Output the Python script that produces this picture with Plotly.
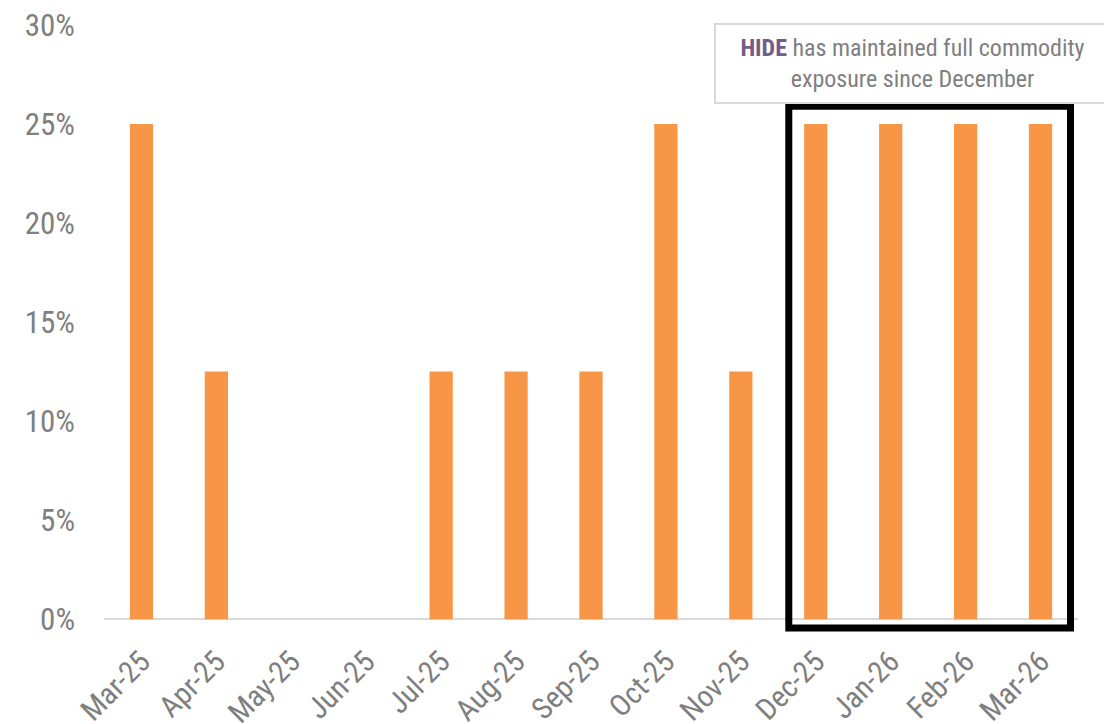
import plotly.graph_objects as go

months = ["Mar-25", "Apr-25", "May-25", "Jun-25", "Jul-25", "Aug-25", "Sep-25",
          "Oct-25", "Nov-25", "Dec-25", "Jan-26", "Feb-26", "Mar-26"]
exposure = [0.25, 0.125, 0.0, 0.0, 0.125, 0.125, 0.125,
            0.25, 0.125, 0.25, 0.25, 0.25, 0.25]
y_ticks = [0, 0.05, 0.10, 0.15, 0.20, 0.25, 0.30]

FONT = "Roboto Condensed, Liberation Sans Narrow, Roboto, sans-serif"
GREY = "#7f7f7f"

fig = go.Figure()
fig.add_trace(go.Bar(x=months, y=exposure, marker_color="#F79646",
                     marker_line_width=0))

# highlight box round Dec-25 .. Mar-26
fig.add_shape(type="rect", xref="x", yref="y",
              x0=9 - 0.36, x1=12 + 0.4, y0=-0.0045, y1=0.259,
              line=dict(color="black", width=7), layer="above")

fig.add_annotation(
    xref="paper", yref="paper", x=0.830, y=0.938,
    xanchor="center", yanchor="middle",
    text="<b><span style='color:#735C8A'>HIDE</span></b> has maintained full commodity<br>exposure since December",
    showarrow=False, align="center", width=375,
    font=dict(family=FONT, size=24, color=GREY),
    bordercolor="#d9d9d9", borderwidth=2, borderpad=9, bgcolor="white",
)

# page body adds an 8px offset, so margins are shifted to compensate
fig.update_layout(
    width=1112, height=724,
    margin=dict(l=95.5, r=41.5, t=17, b=93),
    paper_bgcolor="white", plot_bgcolor="white",
    bargap=0.69, showlegend=False,
    font=dict(family=FONT, size=31, color=GREY),
)
fig.update_xaxes(tickangle=-45, showgrid=False, showline=False, ticks="",
                 automargin=False, ticklabeloverflow="allow",
                 tickfont=dict(size=30, color=GREY), ticklabelstandoff=-2)
fig.update_yaxes(range=[-0.01, 0.30], tickvals=y_ticks, tickformat=".0%",
                 showgrid=False, zeroline=True, zerolinecolor="#d9d9d9",
                 zerolinewidth=2, showline=False, automargin=False,
                 ticklabeloverflow="allow",
                 ticklabelstandoff=28, tickfont=dict(size=31, color=GREY))

fig.write_html("out.html")
